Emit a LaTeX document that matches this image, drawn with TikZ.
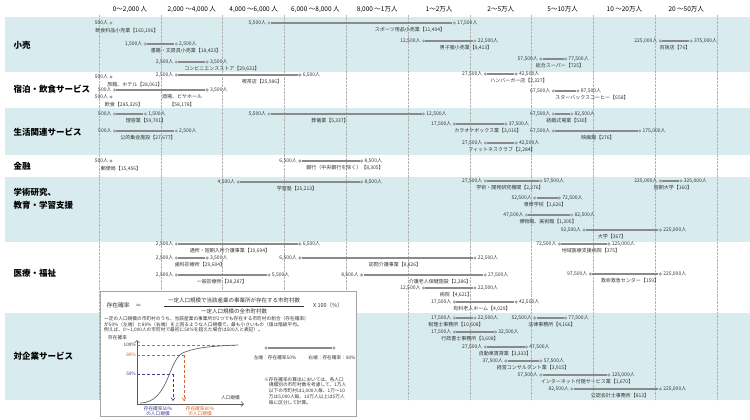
\documentclass[tikz,border=0pt]{standalone}
\usepackage{fontspec}
\setmainfont{Noto Sans CJK JP}
\usepackage{xcolor}
\usepackage{tikz}
\usetikzlibrary{positioning}
\usetikzlibrary{arrows.meta}

\definecolor{bandblue}{HTML}{D8ECF0}
\definecolor{bargray}{HTML}{8A8A8A}
\definecolor{dotgray}{HTML}{A3A3A3}
\definecolor{txtgray}{HTML}{333333}
\definecolor{lineorange}{HTML}{D9622B}
\definecolor{linepurple}{HTML}{3B3B8F}

% value in thousands of people -> x position
\pgfmathdeclarefunction{vx}{1}{\begingroup
  \pgfmathparse{#1<10 ? 99+#1*30.9 : (#1<20 ? 408+(#1-10)*6.18 : (#1<50 ? 469.8+(#1-20)*2.06 : (#1<100 ? 531.6+(#1-50)*1.236 : (#1<200 ? 593.4+(#1-100)*0.618 : 655.2+(#1-200)*0.206))))}%
  \pgfmathsmuggle\pgfmathresult\endgroup}

\tikzset{
  dot/.style={circle, fill=dotgray, inner sep=0pt, minimum size=3.4pt},
  val/.style={font=\fontsize{5}{5.5}\selectfont, text=txtgray, inner sep=0.8pt},
  capt/.style={font=\fontsize{5}{5.5}\selectfont, text=txtgray, inner sep=0pt},
  cat/.style={font=\fontsize{8.5}{13}\selectfont\bfseries, align=left, anchor=west},
  head/.style={font=\fontsize{6.5}{7}\selectfont},
  rngbar/.style={bargray, line width=1.6pt},
  note/.style={font=\fontsize{4.7}{5.8}\selectfont, text=txtgray, align=left, anchor=north west, inner sep=0pt},
}

% #1 name, #2 y, #3 from, #4 to (thousands), #5 #6 value texts, #7 caption, #8 caption x
\newcommand{\rng}[8]{%
  \node[dot] (#1a) at ({vx(#3)},#2) {};
  \node[dot] (#1b) at ({vx(#4)},#2) {};
  \draw[rngbar] (#1a) -- (#1b);
  \node[val, left=0pt of #1a] (#1la) {#5};
  \node[val, right=0pt of #1b] (#1lb) {#6};
  \node[capt] (#1c) at (#8,#2+7) {#7};
}
% single point at 500
\newcommand{\onept}[4]{%
  \node[dot] (#1a) at (111,#2) {};
  \node[val, left=0pt of #1a] (#1la) {500人};
  \node[capt] (#1c) at (#4,#2+7.5) {#3};
}

\begin{document}
\begin{tikzpicture}[x=1pt, y=-1pt]
\useasboundingbox (0,0) rectangle (750,420);

% bands
\fill[bandblue] (5,17) rectangle (750,72);
\fill[bandblue] (5,108) rectangle (750,155);
\fill[bandblue] (5,177) rectangle (750,242);
\fill[bandblue] (5,313) rectangle (750,400);

% columns
\foreach \k in {0,...,10}
  \draw[gray!60, densely dotted, line width=0.4pt] (99+61.8*\k,15) -- (99+61.8*\k,400);
\foreach \t [count=\k from 0] in {{0～2,000 人},{2,000 ～4,000 人},{4,000 ～6,000 人},{6,000 ～8,000 人},{8,000 ～1万人},{1～2万人},{2～5万人},{5～10万人},{10 ～20万人},{20 ～50万人}}
  \node[head] (h\k) at (130+61.8*\k,9) {\t};

% categories
\node[cat] (kouri) at (10,45) {小売};
\node[cat] (shuku) at (10,89) {宿泊・飲食サービス};
\node[cat] (seikatsu) at (10,132) {生活関連サービス};
\node[cat] (kinyu) at (10,166) {金融};
\node[cat] (gakujutsu) at (10,199) {学術研究、\\教育・学習支援};
\node[cat] (iryo) at (10,273) {医療・福祉};
\node[cat] (kigyo) at (10,356) {対企業サービス};

% 小売
\onept{inshoku}{23}{飲食料品小売業【165,196】}{127}
\rng{sports}{23}{5.5}{17.5}{5,500人}{17,500人}{スポーツ用品小売業【11,404】}{410}
\rng{shoseki}{44}{1.5}{2.5}{1,500人}{2,500人}{書籍・文房具小売業【18,423】}{186}
\rng{dansifuku}{41}{12.5}{22.5}{12,500人}{22,500人}{男子服小売業【8,413】}{466}
\rng{hyakka}{41}{225}{375}{225,000人}{375,000人}{百貨店【76】}{675}
\rng{konbini}{62}{2.5}{3.5}{2,500人}{3,500人}{コンビニエンスストア【29,631】}{222}
\rng{super}{59}{57.5}{77.5}{57,500人}{77,500人}{総合スーパー【725】}{560}

% 宿泊・飲食
\onept{ryokan}{77}{旅館、ホテル【28,061】}{135}
\rng{kissa}{75}{2.5}{6.5}{2,500人}{6,500人}{喫茶店【25,986】}{262}
\rng{burger}{74}{27.5}{42.5}{27,500人}{42,500人}{ハンバーガー店【2,327】}{519}
\rng{sakaba}{90}{0.5}{3.5}{500人}{3,500人}{酒場、ビヤホール}{182}
\node[capt] (sakabanum) at (182,105) {【58,178】};
\onept{insyokuten}{97}{飲食【285,329】}{124}
\rng{starbucks}{91}{67.5}{87.5}{67,500人}{87,500人}{スターバックスコーヒー【658】}{592}

% 生活関連
\rng{riyou}{114}{0.5}{1.5}{500人}{1,500人}{理容業【59,701】}{146}
\rng{sougi}{114}{5.5}{12.5}{5,500人}{12,500人}{葬儀業【5,337】}{330}
\rng{kekkon}{114}{67.5}{82.5}{67,500人}{82,500人}{結婚式場業【530】}{568}
\rng{karaoke}{124}{17.5}{37.5}{17,500人}{37,500人}{カラオケボックス業【3,016】}{488}
\rng{kouteki}{131}{0.5}{2.5}{500人}{2,500人}{公的集会施設【27,677】}{148}
\rng{eiga}{131}{67.5}{175}{67,500人}{175,000人}{映画館【276】}{598}
\rng{fitness}{143}{27.5}{42.5}{27,500人}{42,500人}{フィットネスクラブ【2,284】}{502}

% 金融
\onept{yubin}{161}{郵便局【15,456】}{121}
\rng{ginkou}{161}{6.5}{8.5}{6,500人}{8,500人}{銀行（中央銀行を除く）【8,305】}{345}

% 学術研究、教育・学習支援
\rng{juku}{182}{4.5}{8.5}{4,500人}{8,500人}{学習塾【25,213】}{297}
\rng{kenkyu}{181}{27.5}{57.5}{27,500人}{57,500人}{学術・開発研究機関【2,276】}{510}
\rng{tandai}{181}{225}{325}{225,000人}{325,000人}{短期大学【160】}{673}
\rng{senshu}{198}{52.5}{72.5}{52,500人}{72,500人}{専修学校【1,626】}{545}
\rng{hakubutsu}{215}{47.5}{82.5}{47,500人}{82,500人}{博物館、美術館【1,305】}{548}
\rng{daigaku}{230}{92.5}{225}{92,500人}{225,000人}{大学【367】}{612}

% 医療・福祉
\rng{tsusho}{244}{2.5}{6.5}{2,500人}{6,500人}{通所・短期入所介護事業【19,694】}{230}
\rng{chiiki}{244}{72.5}{125}{72,500人}{125,000人}{地域医療支援病院【375】}{591}
\rng{shika}{258}{2.5}{3.5}{2,500人}{3,500人}{歯科診療所【29,604】}{200}
\rng{houmon}{258}{6.5}{22.5}{6,500人}{22,500人}{訪問介護事業【8,826】}{395}
\rng{ippan}{275}{2.5}{5.5}{2,500人}{5,500人}{一般診療所【38,287】}{222}
\rng{rouken}{275}{8.5}{27.5}{8,500人}{27,500人}{介護老人保健施設【2,386】}{440}
\rng{kyumei}{274}{97.5}{225}{97,500人}{225,000人}{救命救急センター【159】}{630}
\rng{byouin}{288}{12.5}{22.5}{12,500人}{22,500人}{病院【4,621】}{456}
\rng{yuryou}{302}{17.5}{42.5}{17,500人}{42,500人}{有料老人ホーム【4,029】}{482}

% 対企業サービス
\rng{zeirishi}{318}{17.5}{22.5}{17,500人}{22,500人}{税理士事務所【10,608】}{456}
\rng{houritsu}{318}{52.5}{77.5}{52,500人}{77,500人}{法律事務所【4,166】}{552}
\rng{gyousei}{332}{17.5}{32.5}{17,500人}{32,500人}{行政書士事務所【3,608】}{470}
\rng{jidousha}{347}{27.5}{47.5}{27,500人}{47,500人}{自動車賃貸業【3,333】}{505}
\rng{keiei}{361}{37.5}{57.5}{37,500人}{57,500人}{経営コンサルタント業【3,915】}{533}
\rng{internet}{375}{57.5}{125}{57,500人}{125,000人}{インターネット付随サービス業【1,670】}{587}
\rng{kaikei}{389}{82.5}{225}{82,500人}{225,000人}{公認会計士事務所【813】}{620}

% explanation box
\draw[gray!70, fill=white, line width=0.5pt] (100,291) rectangle (356,416);
\node[font=\fontsize{5.8}{6}\selectfont, text=txtgray, anchor=west] (sonzai) at (103,305) {存在確率　＝};
\node[font=\fontsize{5.5}{6}\selectfont, text=txtgray] (bunshi) at (234,300) {一定人口規模で当該産業の事業所が存在する市町村数};
\node[font=\fontsize{5.5}{6}\selectfont, text=txtgray] (bunbo) at (234,311) {一定人口規模の全市町村数};
\draw[txtgray, line width=0.4pt] (bunshi.south west) -- (bunshi.south east);
\node[font=\fontsize{5.5}{6}\selectfont, text=txtgray] (hyaku) at (328,305) {X 100（\%）};
\node[note] (setsumei) at (104,316) {一定の人口規模の市町村のうち、当該産業の事業所が1つでも存在する市町村の割合（存在確率）\\が50\%（左端）と80\%（右端）を上回るような人口規模で、最も小さいもの（値は階級平均。\\例えば、0～1,000人の市町村で最初に50\%を超えた場合は500人と表記）。};

% small graph
\coordinate (gorig) at (137,404);
\coordinate (gtop) at (137,340);
\coordinate (gright) at (244,404);
\node[note] (yaxis) at (108,335) {存在確率};
\draw[gray!70!black, line width=0.6pt, -{Straight Barb[length=2.5pt]}] (gorig) -- (gtop);
\draw[gray!70!black, line width=0.6pt, -{Straight Barb[length=2.5pt]}] (gorig) -- (gright);
\node[note, anchor=south east] (xaxis) at (240,400) {人口規模};
\node[note, anchor=east] (p100) at (136,345) {100\%};
\node[note, anchor=east, text=lineorange] (p80) at (136,355) {80\%};
\node[note, anchor=east, text=linepurple] (p50) at (136,374) {50\%};
\draw[gray, densely dashed, line width=0.4pt] (137,345) -- (235,345);
\draw[lineorange, densely dashed, line width=0.5pt] (137,355) -- (184,355);
\draw[lineorange, densely dashed, line width=0.5pt, -{Straight Barb[length=3pt,width=4pt]}] (184,355) -- (184,401);
\draw[linepurple, densely dashed, line width=0.5pt] (137,374) -- (173,374);
\draw[linepurple, densely dashed, line width=0.5pt, -{Straight Barb[length=3pt,width=4pt]}] (173,374) -- (173,401);
\draw[gray!80!black, line width=0.7pt] (140,403) .. controls (170,403) and (168,356) .. (185,352) .. controls (198,347) and (215,346) .. (238,345);
\node[note, text=linepurple, align=center, anchor=north] (lab50) at (158,406) {存在確率50\%\\の人口規模};
\node[note, text=lineorange, align=center, anchor=north] (lab80) at (200,406) {存在確率80\%\\の人口規模};

% legend
\node[dot] (legl) at (266,348) {};
\node[dot] (legr) at (334,348) {};
\draw[rngbar] (legl) -- (legr);
\node[note, anchor=north] (leglt) at (275,355) {左端：存在確率50\%};
\node[note, anchor=north] (legrt) at (332,355) {右端：存在確率：80\%};
\node[note] (kome) at (264,377) {※存在確率の算出においては、各人口\\　規模別の市町村数を考慮して、1万人\\　以下の市町村は1,000人毎、1万～10\\　万は5,000人毎、10万人以上は5万人\\　毎に区分して計算。};
\end{tikzpicture}
\end{document}
